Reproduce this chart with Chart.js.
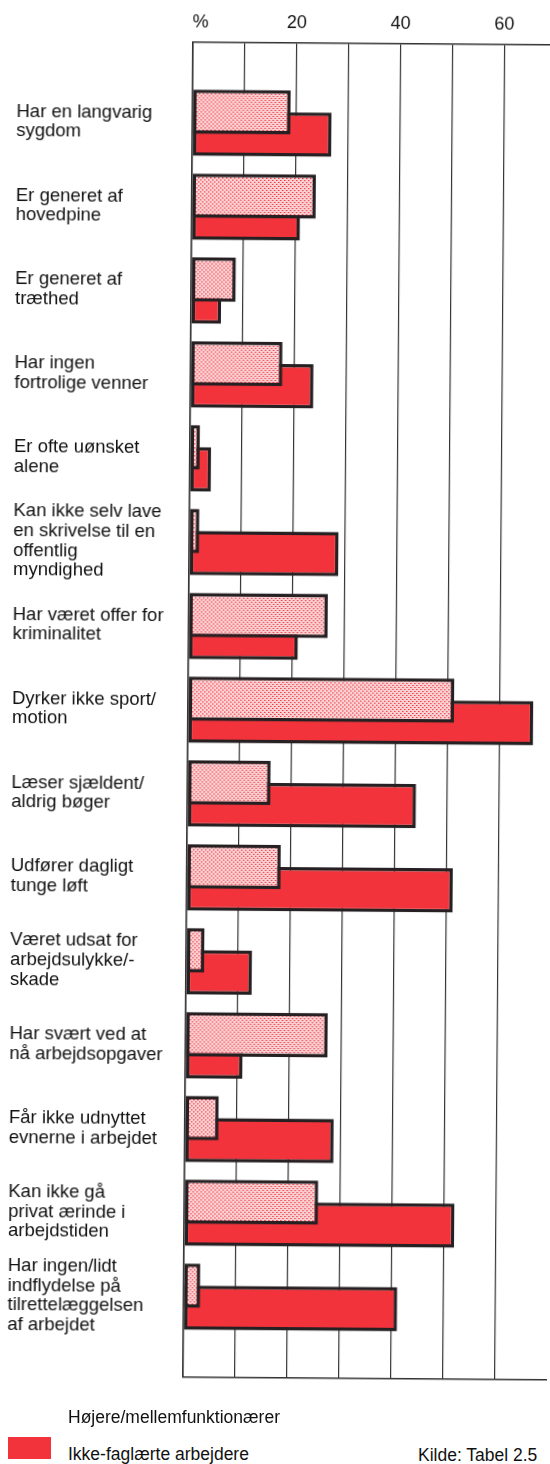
<!DOCTYPE html>
<html>
<head>
<meta charset="utf-8">
<script src="https://cdn.jsdelivr.net/npm/chart.js@4.4.1/dist/chart.umd.min.js"></script>
<style>
  html, body { margin: 0; padding: 0; background: #fff; overflow: hidden; width: 550px; height: 1464px; }
  #wrap { position: absolute; left: 0; top: 0; width: 560px; height: 1420px; transform: rotate(0.43deg); }
  .legend { position: absolute; font-family: "Liberation Sans", Arial, sans-serif; font-size: 17.5px; color: #111; line-height: 20px; white-space: nowrap; }
  .swatch { position: absolute; left: 8px; top: 1437px; width: 43px; height: 22px; background: #f2333b; }
</style>
</head>
<body>
<div id="wrap"><canvas id="chart" width="560" height="1420" style="width:560px;height:1420px"></canvas></div>
<div class="legend" style="left:68px; top:1407px">Højere/mellemfunktionærer</div>
<div class="swatch"></div>
<div class="legend" style="left:68px; top:1444px">Ikke-faglærte arbejdere</div>
<div class="legend" style="left:418px; top:1445px">Kilde: Tabel 2.5</div>
<script>
const categories = [
  ["Har en langvarig", "sygdom"],
  ["Er generet af", "hovedpine"],
  ["Er generet af", "træthed"],
  ["Har ingen", "fortrolige venner"],
  ["Er ofte uønsket", "alene"],
  ["Kan ikke selv lave", "en skrivelse til en", "offentlig", "myndighed"],
  ["Har været offer for", "kriminalitet"],
  ["Dyrker ikke sport/", "motion"],
  ["Læser sjældent/", "aldrig bøger"],
  ["Udfører dagligt", "tunge løft"],
  ["Været udsat for", "arbejdsulykke/-", "skade"],
  ["Har svært ved at", "nå arbejdsopgaver"],
  ["Får ikke udnyttet", "evnerne i arbejdet"],
  ["Kan ikke gå", "privat ærinde i", "arbejdstiden"],
  ["Har ingen/lidt", "indflydelse på", "tilrettelæggelsen", "af arbejdet"]
];

// procent
const funktionaerer = [18.9, 23.9, 8.6, 17.7, 1.9, 1.9, 26.8, 51.3, 16.0, 18.1, 3.5, 27.4, 6.5, 25.8, 3.2];
const ikkeFaglaerte = [26.8, 20.9, 5.8, 23.7, 4.1, 28.8, 21.1, 66.6, 44.1, 51.3, 12.7, 11.0, 28.7, 52.1, 41.2];

const xTickValues = [0, 20, 40, 60];
const xTickLabels = ['   %', '20', '40', '60'];

const FONT = '"Liberation Sans", Arial, sans-serif';
const LINE = '#333';

// prikket mønster til funktionærer
function dotPattern(ctx) {
  const c = document.createElement('canvas');
  c.width = 4; c.height = 4;
  const g = c.getContext('2d');
  g.fillStyle = '#fbd3d5';
  g.fillRect(0, 0, 4, 4);
  g.fillStyle = '#ec3440';
  g.fillRect(0, 0, 1, 1);
  g.fillRect(2, 2, 1, 1);
  g.fillStyle = '#f27c84';
  g.fillRect(1, 0, 1, 1);
  g.fillRect(3, 2, 1, 1);
  return ctx.createPattern(c, 'repeat');
}

const ctx = document.getElementById('chart').getContext('2d');

new Chart(ctx, {
  type: 'bar',
  data: {
    datasets: [
      {
        label: 'Højere/mellemfunktionærer',
        data: funktionaerer.map((v, i) => ({x: v, y: i})),
        backgroundColor: dotPattern(ctx),
        borderColor: '#262022',
        borderWidth: 3.5,
        borderSkipped: false
      },
      {
        label: 'Ikke-faglærte arbejdere',
        data: ikkeFaglaerte.map((v, i) => ({x: v, y: i})),
        backgroundColor: '#f2333b',
        borderColor: '#262022',
        borderWidth: 3.5,
        borderSkipped: false
      }
    ]
  },
  options: {
    indexAxis: 'y',
    responsive: false,
    animation: false,
    categoryPercentage: 0.525,
    barPercentage: 2.01,
    layout: {padding: {left: 12, top: 0, right: 4.5, bottom: 4}},
    plugins: {legend: {display: false}, tooltip: {enabled: false}},
    scales: {
      x: {
        type: 'linear',
        position: 'top',
        min: 0,
        max: 70,
        afterFit: s => { s.height = 43; },
        ticks: {
          stepSize: 10,
          padding: 9,
          color: '#111',
          font: {family: FONT, size: 18},
          callback: v => {
            const k = xTickValues.indexOf(v);
            return k >= 0 ? xTickLabels[k] : '';
          }
        },
        grid: {
          drawTicks: false,
          color: c => (c.tick && c.tick.value <= 60) ? LINE : 'rgba(0,0,0,0)',
          lineWidth: 1.2
        },
        border: {display: true, color: LINE, width: 1.6}
      },
      x2: {
        type: 'linear',
        position: 'bottom',
        afterFit: s => { s.height = 0; },
        ticks: {display: false},
        grid: {display: false, drawTicks: false},
        border: {display: true, color: LINE, width: 1.6}
      },
      y: {
        type: 'linear',
        reverse: true,
        offset: false,
        min: -0.96,
        max: 14.96,
        afterFit: s => { s.width = 176; },
        ticks: {
          stepSize: 1,
          includeBounds: false,
          autoSkip: false,
          maxTicksLimit: 40,
          crossAlign: 'far',
          color: '#111',
          font: {family: FONT, size: 18.5, lineHeight: 1.06},
          callback: v => Number.isInteger(v) && categories[v] ? categories[v] : ''
        },
        grid: {display: false},
        border: {display: true, color: LINE, width: 1.6}
      }
    }
  }
});
</script>
</body>
</html>
